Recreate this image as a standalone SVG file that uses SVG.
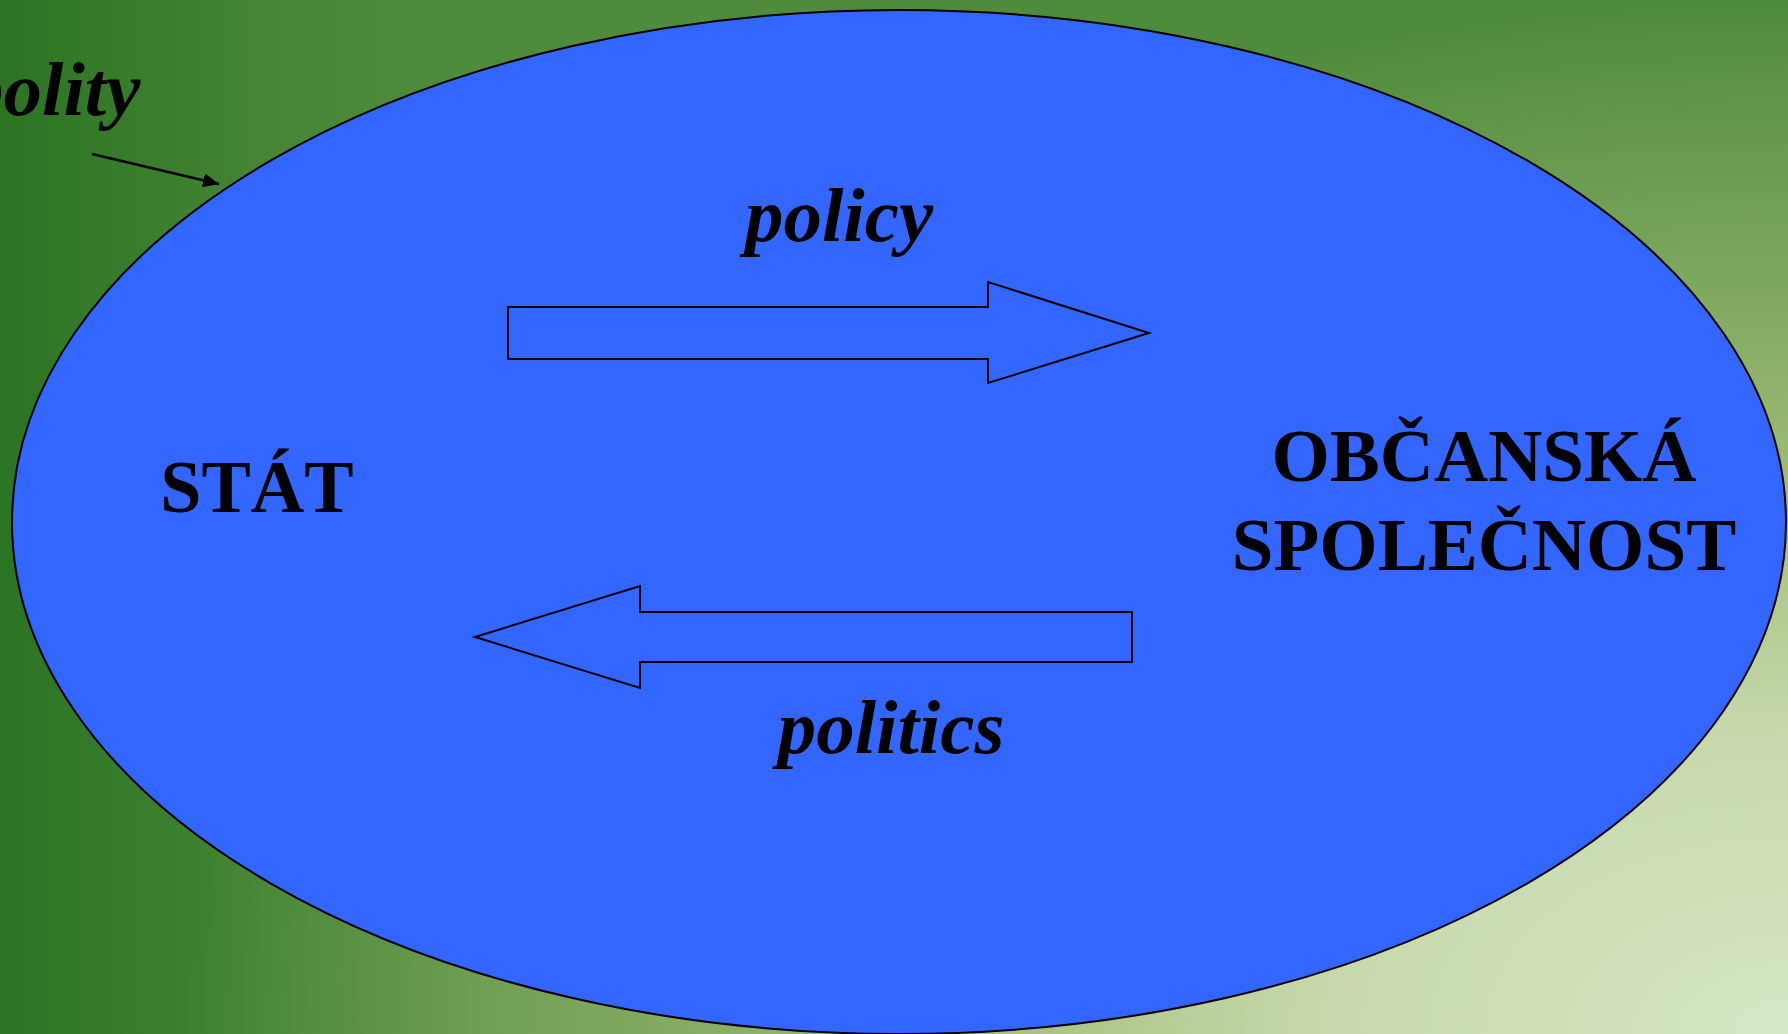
<svg xmlns="http://www.w3.org/2000/svg" width="1788" height="1034" viewBox="0 0 1788 1034">
  <style>
    .lbl { font-family: "Liberation Serif", "Times New Roman", serif; font-weight: bold; fill: #000; }
    .it { font-style: italic; }
    .blk { fill: #3366ff; stroke: #000; stroke-width: 2; stroke-linejoin: miter; }
  </style>
  <defs>
    <radialGradient id="bgR" gradientUnits="userSpaceOnUse" cx="1788" cy="1034" r="1034" gradientTransform="translate(1788 1034) scale(1.55 1) translate(-1788 -1034)">
      <stop offset="0" stop-color="#d6e7c6"/>
      <stop offset="0.3" stop-color="#c6d8aa"/>
      <stop offset="0.5" stop-color="#a4bf7c"/>
      <stop offset="0.8" stop-color="#72a055"/>
      <stop offset="1" stop-color="#4f8b3c"/>
    </radialGradient>
    <linearGradient id="bgL" gradientUnits="userSpaceOnUse" x1="0" y1="0" x2="480" y2="0">
      <stop offset="0" stop-color="#2b7423" stop-opacity="1"/>
      <stop offset="0.3" stop-color="#2b7423" stop-opacity="0.62"/>
      <stop offset="0.6" stop-color="#2b7423" stop-opacity="0.2"/>
      <stop offset="1" stop-color="#2b7423" stop-opacity="0"/>
    </linearGradient>
    <marker id="ah" markerUnits="userSpaceOnUse" markerWidth="18" markerHeight="16" refX="16" refY="7" orient="auto">
      <path d="M0,0 L16,7 L0,14 z" fill="#000"/>
    </marker>
  </defs>

  <rect x="0" y="0" width="1788" height="1034" fill="url(#bgR)"/>
  <rect x="0" y="0" width="1788" height="1034" fill="url(#bgL)"/>

  <g id="polity-region">
    <ellipse cx="899" cy="522" rx="887" ry="512" fill="#3366ff" stroke="#000" stroke-width="2"/>
  </g>

  <g id="polity-label">
    <text class="lbl it" x="-35" y="115" font-size="77">polity</text>
  </g>

  <g id="stat">
    <text class="lbl" x="257" y="512" font-size="74" text-anchor="middle">STÁT</text>
  </g>

  <g id="obcanska-spolecnost">
    <text class="lbl" x="1484" y="481" font-size="75" text-anchor="middle">OBČANSKÁ</text>
    <text class="lbl" x="1484" y="570" font-size="75" text-anchor="middle">SPOLEČNOST</text>
  </g>

  <g id="policy-label">
    <text class="lbl it" x="839" y="241" font-size="77" text-anchor="middle">policy</text>
  </g>

  <g id="politics-label">
    <text class="lbl it" x="891" y="753" font-size="77" text-anchor="middle">politics</text>
  </g>

  <g id="connectors">
    <path id="policy-arrow" class="blk" d="M508,307 L988,307 L988,282 L1149,333 L988,383 L988,359 L508,359 Z"/>
    <path id="politics-arrow" class="blk" d="M1132,612 L640,612 L640,586 L475,637 L640,688 L640,662 L1132,662 Z"/>
    <line id="polity-arrow" x1="92" y1="154" x2="219" y2="184" stroke="#000" stroke-width="2.5" marker-end="url(#ah)"/>
  </g>
</svg>
